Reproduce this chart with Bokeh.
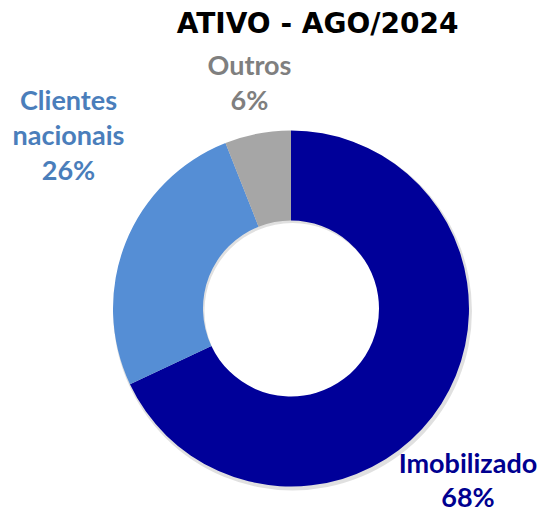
import math
from bokeh.plotting import figure
from bokeh.models import Range1d, ColumnDataSource
from bokeh.core.properties import value
from bokeh.embed import file_html
from bokeh.resources import INLINE

title = "ATIVO - AGO/2024"
categories = ["Imobilizado", "Clientes nacionais", "Outros"]
shares = [68, 26, 6]
slice_colors = ["#000099", "#558ED5", "#A6A6A6"]
label_colors = ["#000090", "#4A7EBB", "#7F7F7F"]

W, H = 540, 511
p = figure(width=W, height=H, output_backend="svg", toolbar_location=None,
           x_range=Range1d(0, W), y_range=Range1d(513 - H, 513),
           min_border=0, outline_line_color=None)
p.axis.visible = False
p.grid.visible = False
p.background_fill_color = "white"
p.border_fill_color = "white"

def Y(page_y):
    return 513 - page_y

cx, cy = 290.5, Y(308)
R_out, R_in = 178, 88

# subtle shadow
p.annulus(x=cx + 1.5, y=cy - 2.5, inner_radius=R_in, outer_radius=R_out + 1.5,
          fill_color="#000000", fill_alpha=0.12, line_color=None)

total = sum(shares)
starts, ends = [], []
a = math.pi / 2
for s in shares:
    b = a - 2 * math.pi * s / total
    starts.append(b)
    ends.append(a)
    a = b

src = ColumnDataSource(dict(cat=categories, start=starts, end=ends, color=slice_colors))
p.annular_wedge(x=cx, y=cy, inner_radius=R_in, outer_radius=R_out,
                start_angle="start", end_angle="end", fill_color="color",
                line_color=None, source=src)

# title
p.text(x=[317], y=[Y(23)], text=[title], text_font=value("DejaVu Sans"),
       text_font_style="bold", text_font_size="28px", text_color="#000000",
       text_align="center", text_baseline="middle")

# labels (x centre, first line centre, line spacing)
label_pos = {"Imobilizado": (467.5, 462, 33.5), "Clientes nacionais": (68, 98.5, 35),
             "Outros": (249, 63.5, 35)}
for cat, s, col in zip(categories, shares, label_colors):
    lines = cat.split(" ") + [f"{s}%"]
    x0, y0, lh = label_pos[cat]
    ys = [Y(y0 + i * lh) for i in range(len(lines))]
    p.text(x=[x0] * len(lines), y=ys, text=lines, text_font=value("Lato"),
           text_font_style="bold", text_font_size="27px", text_color=col,
           text_align="center", text_baseline="middle")

open("out.html", "w").write(file_html(p, INLINE))
